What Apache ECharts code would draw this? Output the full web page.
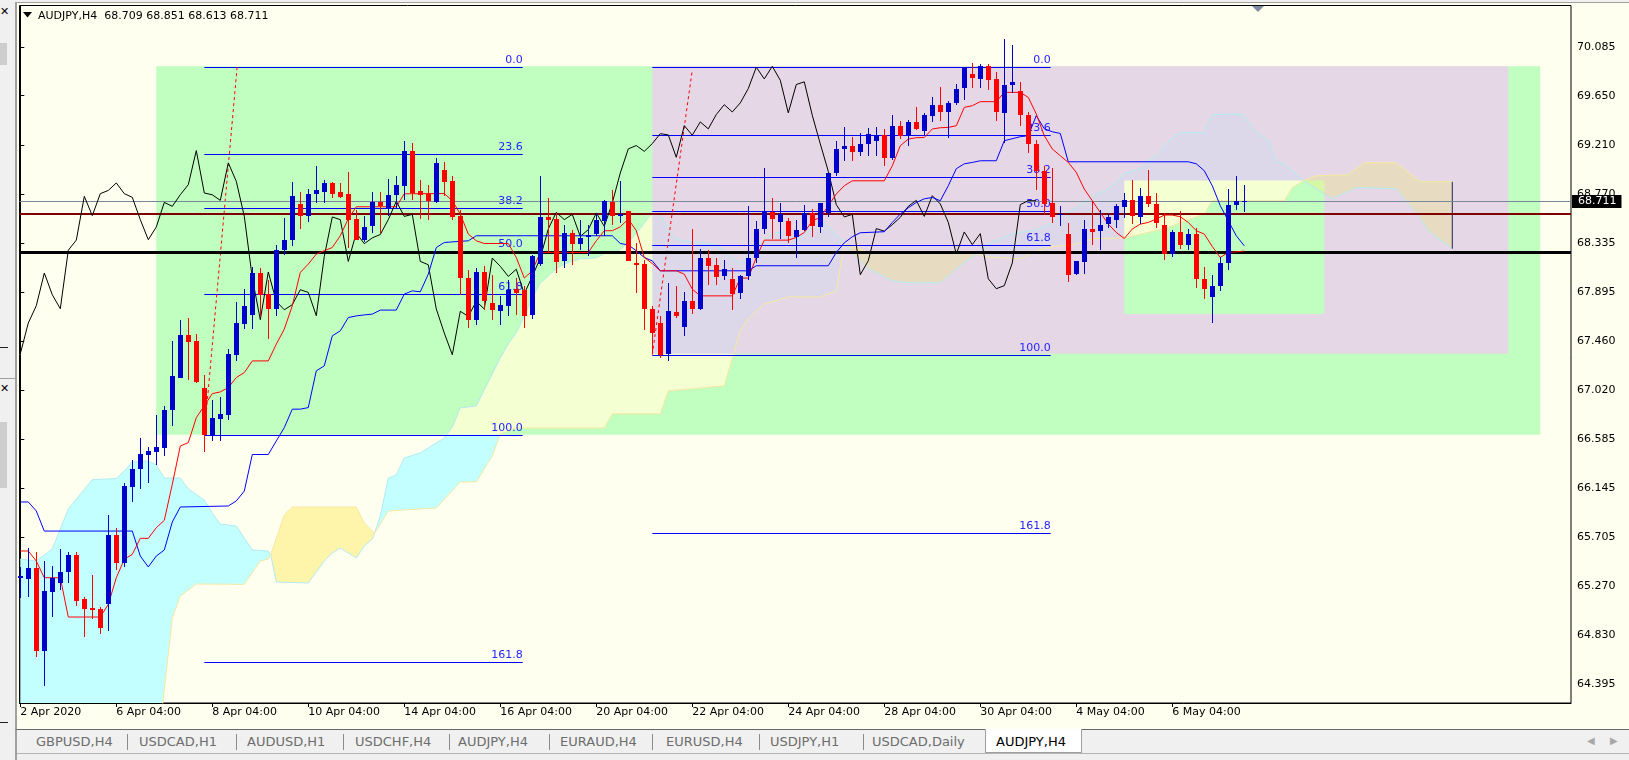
<!DOCTYPE html>
<html>
<head>
<meta charset="utf-8">
<title>AUDJPY,H4</title>
<script src="https://cdn.jsdelivr.net/npm/echarts@6/dist/echarts.min.js"></script>
<style>
    html, body { margin: 0; padding: 0; background: #f0f0f0; }
    #page { position: relative; width: 1629px; height: 760px; overflow: hidden; font-family: "DejaVu Sans", sans-serif; }
    #leftbar { position: absolute; left: 0; top: 0; width: 15px; height: 760px; background: #f0f0f0; }
    #leftbar .box { position: absolute; left: 0; width: 7px; background: #cdcdcd; }
    #leftbar .x { position: absolute; left: 0; font-size: 11px; color: #000; }
    #leftbar .sep { position: absolute; left: 0; width: 15px; height: 1px; background: #a0a0a0; }
    #win { position: absolute; left: 15px; top: 2px; width: 1614px; height: 727px; box-sizing: border-box;
           background: #fffff0; border-left: 2px solid #a0a0a0; border-top: 1px solid #a0a0a0; }
    #tabs { position: absolute; left: 15px; top: 729px; width: 1614px; height: 31px; box-sizing: border-box;
            background: #f0f0f0; border-top: 1px solid #696969; border-left: 2px solid #a0a0a0; }
    #tabs .line { position: absolute; left: 0; top: 23px; width: 1614px; height: 1px; background: #b4b4b4; }
    .tab { position: absolute; top: 734px; font-size: 13px; line-height: 16px; color: #6d6d6d; white-space: nowrap; }
    .tsep { position: absolute; top: 734px; width: 1px; height: 16px; background: #8c8c8c; }
    #active { position: absolute; left: 985px; top: 729px; width: 97px; height: 24px; box-sizing: border-box;
              background: #ffffff; border: 1px solid #a0a0a0; border-top: none; }
    .arrow { position: absolute; top: 735px; font-size: 10px; color: #a8a8a8; }
    #chart { position: absolute; left: 0; top: 0; width: 1629px; height: 760px; }
</style>
</head>
<body>
<div id="page">
    <div id="leftbar">
        <div class="x" style="top:5px">&#x2715;</div>
        <div class="box" style="top:43px;height:22px"></div>
        <div class="sep" style="top:347px;width:8px;background:#202020"></div>
        <div class="sep" style="top:378px"></div>
        <div class="x" style="top:382px">&#x2715;</div>
        <div class="box" style="top:422px;height:66px"></div>
        <div class="sep" style="top:722px;width:8px;background:#202020"></div>
    </div>
    <div id="win"></div>
    <div id="tabs"><div class="line"></div></div>
    <div id="active"></div>
    <div id="tablabels"></div>
    <div class="arrow" style="left:1587px">&#9664;</div>
    <div class="arrow" style="left:1610px">&#9654;</div>
    <div id="chart"></div>
</div>
<script>
(function() {
    'use strict';

    // ---- price data (H4 bars, index 0 = 2 Apr 2020) ----
    const opens = [
        65.34, 65.334, 65.429, 64.693, 65.220, 65.300, 65.399, 65.548, 65.155, 65.070,
        65.065, 65.110, 65.727, 65.474, 66.158, 66.314, 66.445, 66.470, 66.507, 66.836,
        67.133, 67.515, 67.461, 67.038, 66.615, 66.764, 66.800, 67.336, 67.613, 67.687,
        68.066, 67.880, 67.747, 68.270, 68.358, 68.686, 68.579, 68.768, 68.790, 68.871,
        68.787, 68.775, 68.552, 68.364, 68.483, 68.697, 68.647, 68.766, 68.850, 69.160,
        68.800, 68.775, 68.706, 68.990, 68.892, 68.579, 68.022, 67.643, 68.075, 67.800,
        67.732, 67.777, 67.925, 67.917, 67.685, 68.149, 68.567, 68.550, 68.170, 68.424,
        68.328, 68.390, 68.418, 68.528, 68.700, 68.570, 68.617, 68.155, 68.149, 67.745,
        67.620, 67.336, 67.715, 67.582, 67.813, 67.745, 68.200, 68.140, 68.036, 68.013,
        67.881, 68.036, 68.200, 68.460, 68.608, 68.520, 68.528, 68.394, 68.453, 68.603,
        68.474, 68.603, 68.960, 69.175, 69.205, 69.153, 69.222, 69.250, 69.303, 69.100,
        69.383, 69.303, 69.413, 69.340, 69.475, 69.570, 69.505, 69.586, 69.714, 69.840,
        69.800, 69.913, 69.795, 69.497, 69.744, 69.690, 69.482, 69.220, 68.975, 68.692,
        68.580, 68.415, 68.058, 68.165, 68.463, 68.440, 68.498, 68.534, 68.653, 68.715,
        68.572, 68.757, 68.686, 68.498, 68.236, 68.433, 68.320, 68.418, 68.015, 67.857,
        67.953, 68.156, 68.677, 68.709
    ];
    const highs = [
        65.44, 65.613, 65.578, 65.494, 65.450, 65.600, 65.578, 65.578, 65.170, 65.370,
        65.085, 65.905, 65.787, 66.190, 66.397, 66.590, 66.516, 66.800, 66.874, 67.455,
        67.650, 67.664, 67.520, 67.157, 66.934, 66.963, 67.390, 67.810, 67.923, 68.120,
        68.110, 68.000, 68.320, 68.558, 68.876, 68.787, 68.817, 69.026, 68.900, 68.880,
        68.870, 68.966, 68.633, 68.580, 68.787, 68.787, 68.910, 68.930, 69.250, 69.230,
        68.900, 68.856, 69.095, 69.055, 68.936, 68.633, 68.096, 68.110, 68.125, 68.051,
        67.857, 68.007, 68.020, 67.947, 68.230, 68.936, 68.737, 68.603, 68.498, 68.453,
        68.543, 68.498, 68.603, 68.722, 68.811, 68.885, 68.620, 68.335, 68.185, 67.768,
        67.685, 67.977, 67.947, 67.895, 68.460, 68.280, 68.274, 68.200, 68.180, 68.110,
        68.051, 68.662, 68.528, 69.005, 68.737, 68.692, 68.557, 68.543, 68.677, 68.640,
        68.692, 68.960, 69.250, 69.368, 69.280, 69.318, 69.363, 69.370, 69.350, 69.480,
        69.420, 69.437, 69.550, 69.497, 69.636, 69.725, 69.607, 69.756, 69.905, 69.944,
        69.930, 69.935, 69.860, 70.160, 70.107, 69.774, 69.506, 69.258, 69.020, 69.005,
        68.662, 68.513, 68.176, 68.543, 68.707, 68.632, 68.590, 68.680, 68.780, 68.900,
        68.827, 68.984, 68.780, 68.603, 68.453, 68.617, 68.463, 68.469, 68.116, 68.051,
        68.210, 68.820, 68.930, 68.851
    ];
    const lows = [
        65.16, 65.176, 64.639, 64.380, 64.997, 65.235, 65.300, 65.090, 64.818, 64.976,
        64.840, 64.870, 65.410, 65.444, 66.020, 66.136, 66.190, 66.353, 66.433, 66.701,
        67.133, 67.110, 67.083, 66.466, 66.570, 66.570, 66.750, 67.276, 67.568, 67.568,
        67.670, 67.476, 67.680, 68.230, 68.310, 68.460, 68.520, 68.692, 68.690, 68.740,
        68.740, 68.290, 68.360, 68.340, 68.424, 68.420, 68.580, 68.647, 68.720, 68.720,
        68.550, 68.543, 68.692, 68.751, 68.543, 67.872, 67.575, 67.604, 67.738, 67.649,
        67.604, 67.678, 67.690, 67.575, 67.655, 68.126, 68.245, 68.066, 68.110, 68.140,
        68.275, 68.215, 68.394, 68.394, 68.498, 68.510, 68.170, 67.887, 67.560, 67.351,
        67.306, 67.276, 67.664, 67.506, 67.703, 67.732, 67.962, 67.962, 68.000, 67.738,
        67.836, 68.007, 68.156, 68.418, 68.370, 68.370, 68.335, 68.200, 68.440, 68.390,
        68.420, 68.570, 68.930, 69.070, 69.064, 69.110, 69.110, 69.110, 69.020, 69.080,
        69.260, 69.200, 69.340, 69.300, 69.416, 69.420, 69.273, 69.570, 69.616, 69.720,
        69.720, 69.705, 69.420, 69.230, 69.676, 69.377, 69.140, 68.805, 68.588, 68.513,
        68.483, 67.986, 68.050, 68.058, 68.313, 68.275, 68.470, 68.470, 68.558, 68.505,
        68.505, 68.653, 68.468, 68.185, 68.206, 68.284, 68.275, 67.932, 67.836, 67.620,
        67.910, 68.096, 68.633, 68.613
    ];
    const closes = [
        65.36, 65.429, 64.684, 65.229, 65.345, 65.399, 65.548, 65.139, 65.065, 65.050,
        64.898, 65.727, 65.474, 66.165, 66.317, 66.451, 66.478, 66.516, 66.843, 67.142,
        67.515, 67.455, 67.092, 66.615, 66.770, 66.810, 67.345, 67.620, 67.774, 68.066,
        67.872, 67.747, 68.270, 68.360, 68.751, 68.579, 68.775, 68.804, 68.871, 68.775,
        68.742, 68.543, 68.364, 68.478, 68.697, 68.662, 68.766, 68.855, 69.160, 68.781,
        68.765, 68.715, 69.050, 68.885, 68.572, 68.022, 67.649, 68.075, 67.812, 67.738,
        67.783, 67.917, 67.893, 67.685, 68.215, 68.567, 68.543, 68.170, 68.424, 68.328,
        68.380, 68.410, 68.543, 68.707, 68.572, 68.590, 68.170, 68.140, 67.745, 67.530,
        67.336, 67.724, 67.679, 67.813, 67.745, 68.200, 68.126, 68.036, 68.100, 67.881,
        68.036, 68.200, 68.460, 68.608, 68.543, 68.590, 68.394, 68.453, 68.603, 68.483,
        68.692, 68.960, 69.175, 69.205, 69.153, 69.222, 69.311, 69.300, 69.100, 69.383,
        69.297, 69.416, 69.354, 69.482, 69.570, 69.505, 69.586, 69.714, 69.905, 69.800,
        69.913, 69.788, 69.497, 69.750, 69.774, 69.475, 69.220, 68.975, 68.677, 68.567,
        68.590, 68.051, 68.176, 68.463, 68.440, 68.498, 68.563, 68.662, 68.715, 68.572,
        68.757, 68.683, 68.519, 68.236, 68.433, 68.320, 68.418, 68.015, 67.926, 67.953,
        68.156, 68.677, 68.713, 68.711
    ];

    // ---- Ichimoku ([bar, price]) ----
    const tenkan = [
        [0, 65.583], [1, 65.583], [2, 65.493], [3, 65.344], [5, 65.344], [6, 64.993], [10, 64.993], [11, 65.106],
        [12, 65.344], [13, 65.509], [14, 65.553], [15, 65.696], [16, 65.696], [17, 65.791], [18, 65.857], [19, 66.179],
        [20, 66.521], [21, 66.551], [22, 66.774], [23, 66.879], [24, 66.989], [25, 67.004], [26, 67.043], [27, 67.132],
        [28, 67.177], [29, 67.281], [31, 67.281], [32, 67.431], [33, 67.565], [34, 67.773], [35, 68.071], [36, 68.146],
        [37, 68.235], [38, 68.265], [39, 68.294], [40, 68.399], [41, 68.551], [42, 68.658], [47, 68.658], [48, 68.774],
        [53, 68.776], [54, 68.712], [55, 68.593], [56, 68.414], [57, 68.354], [58, 68.330], [61, 68.330], [62, 68.205],
        [63, 68.021], [64, 68.086], [65, 68.250], [71, 68.250], [72, 68.354], [73, 68.444], [74, 68.444], [75, 68.479],
        [76, 68.548], [77, 68.444], [78, 68.205], [79, 68.151], [80, 68.086], [82, 68.086], [83, 68.056], [84, 67.922],
        [85, 67.862], [89, 67.862], [90, 68.021], [91, 68.021], [92, 68.205], [93, 68.360], [96, 68.360], [97, 68.384],
        [98, 68.428], [99, 68.533], [100, 68.562], [101, 68.667], [102, 68.772], [103, 68.846], [104, 68.890], [108, 68.890],
        [109, 69.024], [110, 69.203], [111, 69.263], [112, 69.275], [113, 69.277], [114, 69.353], [115, 69.364], [116, 69.367],
        [117, 69.382], [118, 69.546], [119, 69.561], [120, 69.597], [122, 69.597], [123, 69.680], [125, 69.680], [126, 69.635],
        [127, 69.487], [128, 69.293], [129, 69.174], [130, 69.114], [131, 69.054], [132, 68.965], [133, 68.816], [134, 68.712],
        [135, 68.607], [136, 68.503], [137, 68.428], [138, 68.375], [139, 68.459], [140, 68.503], [141, 68.518], [142, 68.548],
        [143, 68.584], [144, 68.584], [145, 68.569], [146, 68.518], [147, 68.444], [148, 68.414], [149, 68.303], [150, 68.205],
        [151, 68.250], [152, 68.256], [153, 68.262]
    ];
    const kijun = [
        [0, 66.021], [1, 66.021], [2, 65.940], [3, 65.761], [14, 65.761], [15, 65.538], [16, 65.440], [17, 65.538],
        [18, 65.592], [19, 65.842], [20, 65.976], [26, 65.985], [27, 66.030], [28, 66.119], [29, 66.445], [31, 66.445],
        [32, 66.566], [33, 66.685], [34, 66.850], [35, 66.850], [36, 66.864], [37, 67.192], [38, 67.237], [39, 67.505],
        [40, 67.550], [41, 67.668], [42, 67.683], [43, 67.692], [44, 67.699], [45, 67.735], [47, 67.735], [48, 67.878],
        [49, 67.907], [50, 67.898], [51, 68.056], [52, 68.294], [53, 68.339], [56, 68.354], [57, 68.399], [74, 68.399],
        [75, 68.330], [76, 68.318], [77, 68.265], [78, 68.205], [79, 68.175], [80, 68.086], [91, 68.086], [92, 68.131],
        [101, 68.131], [102, 68.250], [103, 68.336], [104, 68.390], [105, 68.426], [108, 68.435], [109, 68.518], [110, 68.593],
        [111, 68.649], [112, 68.696], [113, 68.729], [114, 68.741], [115, 68.712], [116, 68.846], [117, 68.998], [118, 69.042],
        [119, 69.054], [120, 69.069], [122, 69.069], [123, 69.248], [125, 69.284], [126, 69.293], [127, 69.472], [128, 69.355],
        [129, 69.328], [130, 69.313], [131, 69.060], [146, 69.060], [147, 69.042], [148, 68.980], [149, 68.846], [150, 68.667],
        [151, 68.533], [152, 68.399], [153, 68.309]
    ];
    const chikouShift = 26;

    // senkou spans (light-cyan edged and yellow edged), crossings included in both
    const spanL = [
        [0, 65.511], [2, 65.493], [4, 65.600], [6, 65.958], [9, 66.220], [12, 66.230], [13, 66.298], [14, 66.378],
        [16, 66.387], [17, 66.351], [18, 66.235], [20, 66.235], [21, 66.137], [23, 66.039], [24, 65.922], [25, 65.824],
        [27, 65.806], [29, 65.592], [31, 65.583], [31.3, 65.55], [32, 65.306], [36, 65.297], [38, 65.493], [39, 65.565],
        [40, 65.610], [42, 65.520], [43, 65.628], [44, 65.690], [44.3, 65.744], [45, 65.896], [46, 66.235], [47, 66.262],
        [48, 66.414], [50, 66.459], [51, 66.504], [53, 66.593], [54, 66.691], [55, 66.861], [57, 66.879], [60, 67.308],
        [61, 67.433], [62, 67.532], [63, 67.684], [64, 67.844], [65, 67.979], [67, 68.104], [68, 68.148], [70, 68.193],
        [72, 68.202], [73, 68.238], [75, 68.274], [77, 68.417], [78, 68.515], [79, 68.604], [80, 68.586], [81, 68.444],
        [82, 68.372], [83, 68.354], [87, 68.318], [88, 68.265], [90, 68.148], [91, 68.229], [94, 68.417], [96, 68.444],
        [97, 68.354], [98, 68.417], [100, 68.533], [101, 68.479], [102, 68.408], [103, 68.327], [104, 68.247], [106, 68.104],
        [109, 67.997], [111, 67.979], [115, 67.979], [117, 68.104], [119, 68.211], [119.6, 68.238], [121, 68.327], [124, 68.417],
        [127, 68.452], [129, 68.515], [130, 68.578], [132, 68.649], [134, 68.747], [136, 68.819], [137, 68.873], [138, 68.953],
        [140, 68.998], [141, 69.069], [142, 69.114], [144, 69.275], [145, 69.320], [148, 69.320], [149, 69.480], [152, 69.489],
        [153, 69.472], [154, 69.364], [156, 69.248], [157, 69.060], [158, 69.042], [160.4, 68.890], [163, 68.774], [164, 68.729],
        [167, 68.828], [168, 68.828], [172, 68.819], [174, 68.640], [175, 68.551], [176, 68.444], [179, 68.283]
    ];
    const spanY = [
        [0, 63.70], [17, 63.70], [19, 64.984], [20, 65.180], [22, 65.288], [28, 65.285], [30, 65.493], [31, 65.511],
        [31.3, 65.55], [33, 65.905], [34, 65.976], [42, 65.976], [43, 65.833], [44, 65.762], [44.3, 65.744], [46, 65.940],
        [52, 65.967], [55, 66.200], [57, 66.200], [59, 66.432], [60, 66.629], [62, 66.682], [73, 66.682], [74, 66.808],
        [80, 66.808], [81, 67.013], [88, 67.058], [89, 67.308], [90, 67.550], [91, 67.657], [93, 67.791], [94, 67.809],
        [96, 67.853], [100, 67.853], [102, 67.907], [103, 68.327], [104, 68.309], [106, 68.247], [119, 68.247], [119.6, 68.238],
        [121, 68.211], [125, 68.193], [127, 68.265], [129, 68.300], [132, 68.327], [134, 68.372], [138, 68.381], [143, 68.461],
        [148, 68.595], [149, 68.712], [158, 68.712], [159, 68.828], [160.4, 68.890], [162, 68.935], [166, 68.944], [168, 69.051],
        [172, 69.051], [175, 68.881], [179, 68.881]
    ];
    const kumoEdges = [0, 31.3, 44.3, 103, 119.6, 160.4, 179];

    // ---- drawn objects ----
    const rectBig = [17, 69.913, 190, 66.621];
    const rectPink = [79, 69.913, 186, 67.345];
    const rectSmall = [138, 68.892, 163, 67.700];

    const fibLevelNames = ['0.0', '23.6', '38.2', '50.0', '61.8', '100.0', '161.8'];
    const fib1Span = [23, 62.8];
    const fib1Prices = [69.904, 69.129, 68.650, 68.262, 67.875, 66.621, 64.592];
    const fib2Span = [79, 128.8];
    const fib2Prices = [69.908, 69.301, 68.926, 68.622, 68.318, 67.336, 65.747];
    const fib1Trend = [[23, 66.621], [27.1, 69.904]];
    const fib2Trend = [[79, 67.336], [84, 69.880]];

    const bidPrice = 68.711;
    const maroonPrice = 68.597;
    const blackPrice = 68.250;

    // ---- axes ----
    const priceTicks = [70.085, 69.650, 69.210, 68.770, 68.335, 67.895, 67.460, 67.020, 66.585, 66.145, 65.705, 65.270, 64.830, 64.395];
    const timeTickBars = [0, 12, 24, 36, 48, 60, 72, 84, 96, 108, 120, 132, 144];
    const timeTickLabels = ['2 Apr 2020', '6 Apr 04:00', '8 Apr 04:00', '10 Apr 04:00', '14 Apr 04:00', '16 Apr 04:00',
        '20 Apr 04:00', '22 Apr 04:00', '24 Apr 04:00', '28 Apr 04:00', '30 Apr 04:00', '4 May 04:00', '6 May 04:00'];

    const tabNames = ['GBPUSD,H4', 'USDCAD,H1', 'AUDUSD,H1', 'USDCHF,H4', 'AUDJPY,H4', 'EURAUD,H4',
        'EURUSD,H4', 'USDJPY,H1', 'USDCAD,Daily', 'AUDJPY,H4'];

    // ---- tab strip (plain html) ----
    const tabLeft = [36, 139, 247, 355, 458, 560, 666, 770, 872, 996];
    const sepLeft = [127, 236, 343, 449, 549, 652, 759, 863];
    const tabBox = document.getElementById('tablabels');
    tabNames.forEach((name, i) => {
        const s = document.createElement('span');
        s.className = 'tab';
        s.style.left = tabLeft[i] + 'px';
        if (i === tabNames.length - 1) s.style.color = '#000';
        s.textContent = name;
        tabBox.appendChild(s);
    });
    sepLeft.forEach(x => {
        const d = document.createElement('div');
        d.className = 'tsep';
        d.style.left = x + 'px';
        tabBox.appendChild(d);
    });

    // ---- helpers ----
    const FONT = '11px "DejaVu Sans"';
    const upColor = '#0000cd';
    const downColor = '#ff0000';
    const kumoColors = {
        up:   { base: '#c4ffff', green: '#f4ffd2', pink: '#dcd8ea' },
        down: { base: '#fff5aa', green: '#d6f7a6', pink: '#e7dcc2' }
    };

    function clipRect(pts, x0, y0, x1, y1) {
        const planes = [
            [p => p[0] >= x0, (a, b) => [x0, a[1] + (x0 - a[0]) / (b[0] - a[0]) * (b[1] - a[1])]],
            [p => p[0] <= x1, (a, b) => [x1, a[1] + (x1 - a[0]) / (b[0] - a[0]) * (b[1] - a[1])]],
            [p => p[1] >= y0, (a, b) => [a[0] + (y0 - a[1]) / (b[1] - a[1]) * (b[0] - a[0]), y0]],
            [p => p[1] <= y1, (a, b) => [a[0] + (y1 - a[1]) / (b[1] - a[1]) * (b[0] - a[0]), y1]]
        ];
        let out = pts;
        planes.forEach(([inside, cut]) => {
            if (out.length < 3) return;
            const src = out;
            out = [];
            for (let i = 0; i < src.length; i++) {
                const cur = src[i];
                const prev = src[(i + src.length - 1) % src.length];
                if (inside(cur)) {
                    if (!inside(prev)) out.push(cut(prev, cur));
                    out.push(cur);
                } else if (inside(prev)) {
                    out.push(cut(prev, cur));
                }
            }
        });
        return out;
    }

    function between(span, a, b) {
        return span.filter(p => p[0] >= a - 1e-6 && p[0] <= b + 1e-6);
    }

    function mean(pts) {
        return pts.reduce((s, p) => s + p[1], 0) / pts.length;
    }

    const crisp = v => Math.round(v) + 0.5;

    // ---- series ----
    const candleData = closes.map((c, i) => [i, opens[i], highs[i], lows[i], c]);
    const chikou = closes.map((c, i) => [i - chikouShift, c]).filter(p => p[0] >= 0);

    const rects = [
        { r: rectBig, color: '#c0ffc0' },
        { r: rectPink, color: '#e6d7e6' },
        { r: rectSmall, color: '#c0ffc0' }
    ];

    const fibItems = [];
    fib1Prices.forEach((p, k) => fibItems.push([fib1Span[0], p, fib1Span[1], k]));
    fib2Prices.forEach((p, k) => fibItems.push([fib2Span[0], p, fib2Span[1], k]));

    const hlines = [
        { price: bidPrice, color: '#778899', width: 1, box: true },
        { price: maroonPrice, color: '#800000', width: 2 },
        { price: blackPrice, color: '#000000', width: 3 }
    ];

    const chart = echarts.init(document.getElementById('chart'), null, { renderer: 'canvas' });

    const option = {
        animation: false,
        backgroundColor: 'transparent',
        grid: {
            left: 19.5, top: 5.5, width: 1551.5, height: 697.5,
            show: true, borderColor: '#000', borderWidth: 1, backgroundColor: 'transparent'
        },
        xAxis: {
            type: 'value', min: -0.1, max: 193.84,
            splitLine: { show: false },
            axisLine: { show: true, lineStyle: { color: '#000', width: 1 } },
            axisTick: { show: true, customValues: timeTickBars, length: 4, lineStyle: { color: '#000' } },
            axisLabel: {
                show: true, customValues: timeTickBars,
                formatter: v => timeTickLabels[timeTickBars.indexOf(v)] || '',
                align: 'left', margin: 4, color: '#000', fontFamily: 'DejaVu Sans', fontSize: 11
            }
        },
        yAxis: {
            type: 'value', position: 'right', min: 64.225, max: 70.456,
            splitLine: { show: false },
            axisLine: { show: true, lineStyle: { color: '#000', width: 1 } },
            axisTick: { show: true, customValues: priceTicks, length: 4, lineStyle: { color: '#000' } },
            axisLabel: {
                show: true, customValues: priceTicks,
                formatter: v => v.toFixed(3),
                margin: 6, color: '#000', fontFamily: 'DejaVu Sans', fontSize: 11
            }
        },
        graphic: [
            { type: 'polygon', z: 20, shape: { points: [[23, 12], [32, 12], [27.5, 17.5]] }, style: { fill: '#000' } },
            { type: 'text', z: 20, x: 38, y: 16,
              style: { text: 'AUDJPY,H4  68.709 68.851 68.613 68.711', font: FONT, fill: '#000', verticalAlign: 'middle' } },
            { type: 'polygon', z: 20, shape: { points: [[1252, 6], [1264, 6], [1258, 12]] }, style: { fill: '#7d8ca3' } }
        ],
        series: [
            // drawn rectangles
            {
                type: 'custom', name: 'rects', z: 1, silent: true, clip: false,
                data: rects.map(o => o.r),
                renderItem: (params, api) => {
                    const o = rects[params.dataIndex];
                    const p0 = api.coord([o.r[0], o.r[1]]);
                    const p1 = api.coord([o.r[2], o.r[3]]);
                    return { type: 'rect', shape: { x: p0[0], y: p0[1], width: p1[0] - p0[0], height: p1[1] - p0[1] },
                             style: { fill: o.color } };
                }
            },
            // kumo
            {
                type: 'custom', name: 'kumo', z: 2, silent: true, clip: false,
                data: kumoEdges.slice(0, -1).map((a, k) => [a, 67, kumoEdges[k + 1]]),
                renderItem: (params, api) => {
                    const a = api.value(0), b = api.value(2);
                    const top = between(spanL, a, b), bot = between(spanY, a, b);
                    const poly = top.map(p => api.coord(p)).concat(bot.slice().reverse().map(p => api.coord(p)));
                    const pal = mean(top) > mean(bot) ? kumoColors.up : kumoColors.down;
                    const cs = params.coordSys;
                    const children = [];
                    const base = clipRect(poly, cs.x, cs.y, cs.x + cs.width, cs.y + cs.height);
                    if (base.length > 2) children.push({ type: 'polygon', shape: { points: base }, style: { fill: pal.base } });
                    [[rectBig, pal.green], [rectPink, pal.pink], [rectSmall, pal.green]].forEach(([r, col]) => {
                        const p0 = api.coord([r[0], r[1]]), p1 = api.coord([r[2], r[3]]);
                        const c = clipRect(poly, p0[0], p0[1], p1[0], p1[1]);
                        if (c.length > 2) children.push({ type: 'polygon', shape: { points: c }, style: { fill: col } });
                    });
                    return { type: 'group', children: children };
                }
            },
            { type: 'line', name: 'spanL', z: 3, silent: true, data: spanL, showSymbol: false,
              lineStyle: { color: '#b2eaf2', width: 1 } },
            { type: 'line', name: 'spanY', z: 3, silent: true, data: spanY, showSymbol: false,
              lineStyle: { color: '#f4e8a0', width: 1 } },
            { type: 'line', name: 'kumoEnd', z: 3, silent: true, showSymbol: false,
              data: [spanL[spanL.length - 1], spanY[spanY.length - 1]],
              lineStyle: { color: '#22225a', width: 1 } },
            // fibonacci levels
            {
                type: 'custom', name: 'fibo', z: 4, silent: true, clip: false,
                data: fibItems,
                renderItem: (params, api) => {
                    const p0 = api.coord([api.value(0), api.value(1)]);
                    const p1 = api.coord([api.value(2), api.value(1)]);
                    const y = crisp(p0[1]);
                    return {
                        type: 'group', children: [
                            { type: 'line', shape: { x1: p0[0], y1: y, x2: p1[0], y2: y }, style: { stroke: '#0000ff', lineWidth: 1 } },
                            { type: 'text', x: p1[0], y: y - 1.5,
                              style: { text: fibLevelNames[api.value(3)], font: FONT, fill: '#2424ff', align: 'right', verticalAlign: 'bottom' } }
                        ]
                    };
                }
            },
            { type: 'line', name: 'fib1Trend', z: 4, silent: true, data: fib1Trend, showSymbol: false,
              lineStyle: { color: '#ff0000', width: 1, type: [3, 3] } },
            { type: 'line', name: 'fib2Trend', z: 4, silent: true, data: fib2Trend, showSymbol: false,
              lineStyle: { color: '#ff0000', width: 1, type: [3, 3] } },
            // horizontal lines + bid label
            {
                type: 'custom', name: 'hlines', z: 5, silent: true, clip: false,
                data: hlines.map((h, k) => [0, h.price, k]),
                renderItem: (params, api) => {
                    const h = hlines[api.value(2)];
                    const cs = params.coordSys;
                    let y = api.coord([0, h.price])[1];
                    y = h.width % 2 ? crisp(y) : Math.round(y);
                    const children = [{ type: 'line', shape: { x1: cs.x, y1: y, x2: cs.x + cs.width, y2: y },
                                        style: { stroke: h.color, lineWidth: h.width } }];
                    if (h.box) {
                        children.push({ type: 'text', x: cs.x + cs.width + 1, y: y,
                            style: { text: h.price.toFixed(3), font: FONT, fill: '#fff', backgroundColor: '#000',
                                     padding: [1, 5, 1, 6], align: 'left', verticalAlign: 'middle' } });
                    }
                    return { type: 'group', children: children };
                }
            },
            // ichimoku lines
            { type: 'line', name: 'chikou', z: 6, silent: true, data: chikou, showSymbol: false,
              lineStyle: { color: '#000000', width: 1 } },
            { type: 'line', name: 'kijun', z: 6, silent: true, data: kijun, showSymbol: false,
              lineStyle: { color: '#0000ff', width: 1 } },
            { type: 'line', name: 'tenkan', z: 6, silent: true, data: tenkan, showSymbol: false,
              lineStyle: { color: '#ff0000', width: 1 } },
            // candles
            {
                type: 'custom', name: 'candles', z: 7, silent: true, clip: false,
                data: candleData,
                renderItem: (params, api) => {
                    const i = api.value(0), o = api.value(1), h = api.value(2), l = api.value(3), c = api.value(4);
                    const po = api.coord([i, o]), pc = api.coord([i, c]);
                    const ph = api.coord([i, h]), pl = api.coord([i, l]);
                    const col = c >= o ? upColor : downColor;
                    const xc = Math.round(po[0]);
                    const top = Math.round(Math.min(po[1], pc[1]));
                    const bh = Math.max(1, Math.round(Math.abs(po[1] - pc[1])));
                    return {
                        type: 'group', children: [
                            { type: 'line', shape: { x1: xc + 0.5, y1: Math.round(ph[1]), x2: xc + 0.5, y2: Math.round(pl[1]) },
                              style: { stroke: col, lineWidth: 1 } },
                            { type: 'rect', shape: { x: xc - 2, y: top, width: 5, height: bh }, style: { fill: col } }
                        ]
                    };
                }
            }
        ]
    };

    chart.setOption(option);
})();
</script>
</body>
</html>
